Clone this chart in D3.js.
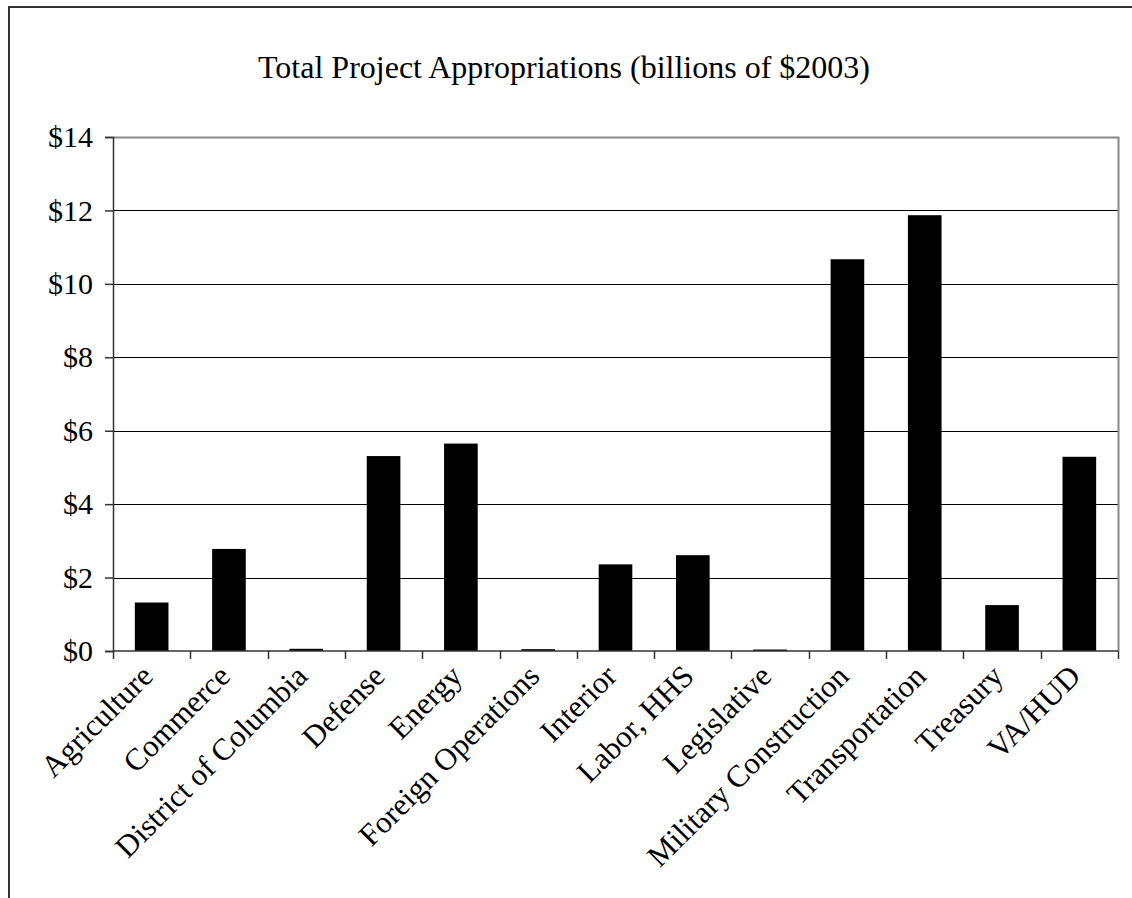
<!DOCTYPE html>
<html>
<head>
<meta charset="utf-8">
<script src="https://cdn.jsdelivr.net/npm/d3@7"></script>
<style>
  body { margin: 0; background: #fff; }
  svg { display: block; font-family: "Liberation Serif", "Times New Roman", serif; }
</style>
</head>
<body>
<svg id="chart"></svg>
<script>
var width = 1132,
    height = 898;

// data
var categories = ["Agriculture", "Commerce", "District of Columbia", "Defense", "Energy",
    "Foreign Operations", "Interior", "Labor, HHS", "Legislative", "Military Construction",
    "Transportation", "Treasury", "VA/HUD"];
var values = [1.32, 2.78, 0.06, 5.31, 5.65, 0.05, 2.36, 2.61, 0.04, 10.67, 11.87, 1.25, 5.29];
var yTicks = [0, 2, 4, 6, 8, 10, 12, 14];
var titleText = "Total Project Appropriations (billions of $2003)";

var plot = {left: 113, right: 1118, top: 137, bottom: 651};

var svg = d3.select("#chart")
    .attr("width", width)
    .attr("height", height);

svg.append("rect")
    .attr("width", width)
    .attr("height", height)
    .attr("fill", "#fff");

// outer chart border (only top and left visible)
svg.append("path")
    .attr("d", "M9," + height + "V7H" + width)
    .attr("fill", "none")
    .attr("stroke", "#333")
    .attr("stroke-width", 2);

svg.append("text")
    .attr("x", 564)
    .attr("y", 78)
    .attr("text-anchor", "middle")
    .style("font-size", "32px")
    .text(titleText);

var x = d3.scaleBand()
    .domain(categories)
    .range([plot.left, plot.right])
    .paddingInner(0.565)
    .paddingOuter(0.2825);

var y = d3.scaleLinear()
    .domain([0, 14])
    .range([plot.bottom, plot.top]);

// gridlines
svg.append("g")
    .selectAll("line")
    .data(yTicks.filter(function (d) { return d > 0 && d < 14; }))
    .enter()
    .append("line")
    .attr("x1", plot.left)
    .attr("x2", plot.right)
    .attr("y1", function (d) { return Math.round(y(d)) + 0.5; })
    .attr("y2", function (d) { return Math.round(y(d)) + 0.5; })
    .attr("stroke", "#000")
    .attr("stroke-width", 1);

// plot frame top/right
svg.append("path")
    .attr("d", "M" + plot.left + "," + (plot.top + 0.5) + "H" + (plot.right + 0.5) + "V" + plot.bottom)
    .attr("fill", "none")
    .attr("stroke", "#888")
    .attr("stroke-width", 2);

// bars
svg.append("g")
    .selectAll("rect")
    .data(values)
    .enter()
    .append("rect")
    .attr("x", function (d, i) { return x(categories[i]); })
    .attr("width", x.bandwidth())
    .attr("y", function (d) { return y(d); })
    .attr("height", function (d) { return y(0) - y(d); })
    .attr("fill", "#000");

// y axis
var yAxis = svg.append("g")
    .attr("transform", "translate(" + plot.left + ",0)")
    .call(d3.axisLeft(y).tickValues(yTicks).tickSize(8).tickPadding(12)
        .tickFormat(function (d) { return "$" + d; }));
yAxis.select(".domain").attr("stroke", "#333").attr("stroke-width", 1.5);
yAxis.selectAll(".tick line").attr("stroke", "#333").attr("stroke-width", 1.5);
yAxis.selectAll("text")
    .style("font-size", "30px")
    .attr("fill", "#000")
    .style("font-family", "'Liberation Serif', 'Times New Roman', serif");

// x axis with ticks at the category boundaries
var bounds = d3.range(categories.length + 1).map(function (i) {
    return plot.left + i * x.step();
});
var xAxis = svg.append("g");
xAxis.append("line")
    .attr("x1", plot.left)
    .attr("x2", plot.right)
    .attr("y1", plot.bottom)
    .attr("y2", plot.bottom)
    .attr("stroke", "#333")
    .attr("stroke-width", 1.5);
xAxis.selectAll(".xt")
    .data(bounds)
    .enter()
    .append("line")
    .attr("class", "xt")
    .attr("x1", function (d) { return Math.round(d) + 0.5; })
    .attr("x2", function (d) { return Math.round(d) + 0.5; })
    .attr("y1", plot.bottom)
    .attr("y2", plot.bottom + 8)
    .attr("stroke", "#333")
    .attr("stroke-width", 1.5);

xAxis.selectAll(".xl")
    .data(categories)
    .enter()
    .append("text")
    .attr("class", "xl")
    .attr("text-anchor", "end")
    .attr("transform", function (d) {
        var cx = x(d) + x.bandwidth() / 2 + 3;
        return "translate(" + cx + "," + (plot.bottom + 27) + ")rotate(-45)";
    })
    .style("font-size", "31px")
    .text(function (d) { return d; });
</script>
</body>
</html>
